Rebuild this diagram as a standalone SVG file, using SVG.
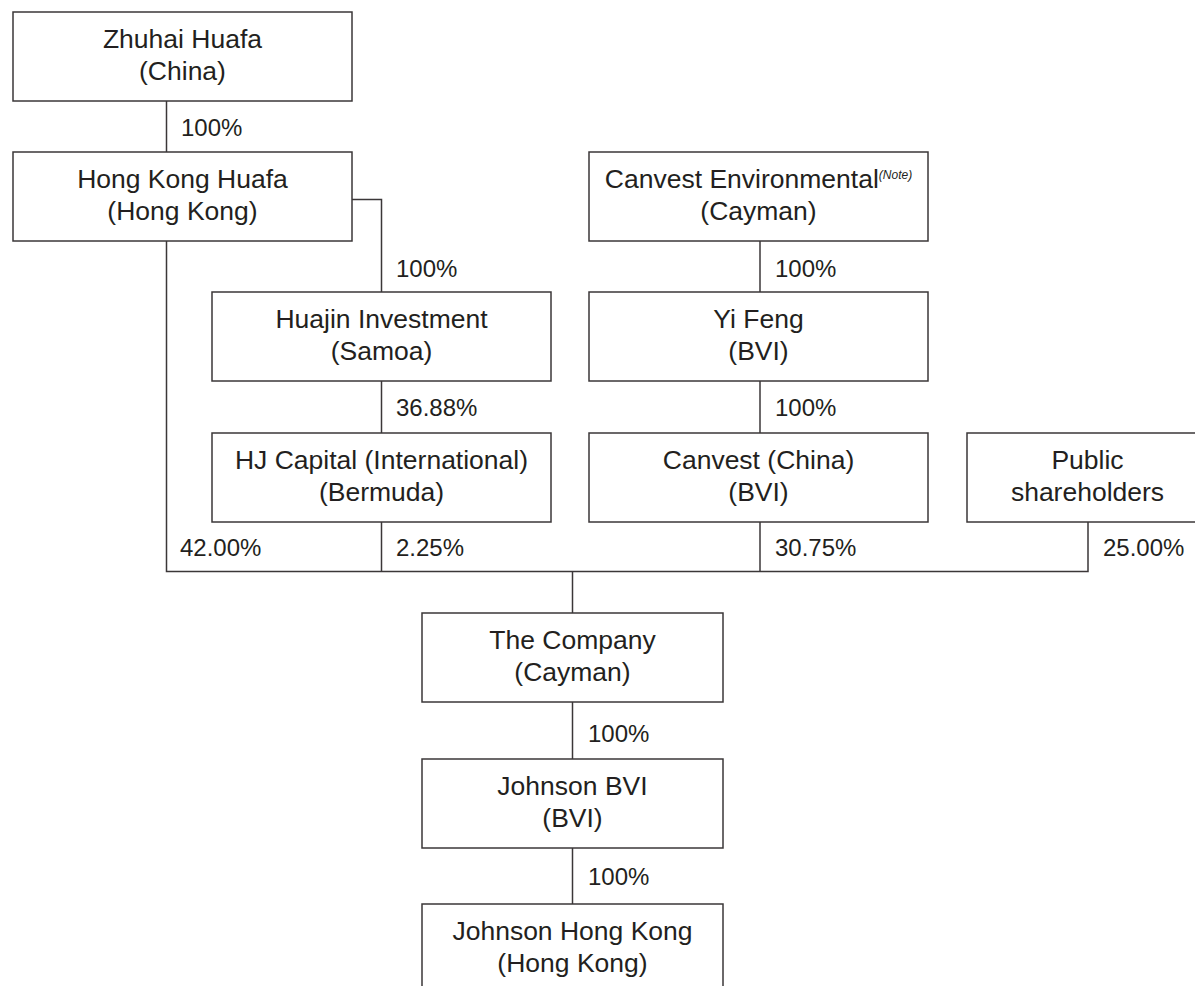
<svg xmlns="http://www.w3.org/2000/svg" width="1195" height="986" viewBox="0 0 1195 986">
<style>
.box{fill:#fff;stroke:#3b3738;stroke-width:1.5}
.t{font-family:"Liberation Sans",Arial,sans-serif;font-size:26.5px;fill:#231f20;text-anchor:middle}
.p{font-family:"Liberation Sans",Arial,sans-serif;font-size:24px;fill:#231f20}
.c{fill:none;stroke:#3b3738;stroke-width:1.5}
.n{font-style:italic;font-size:12px}
</style>
<rect width="1195" height="986" fill="#fff"/>
<g id="connectors">
<path class="c" d="M166.5 101V152"/>
<path class="c" d="M166.5 241V571.5H1088V522"/>
<path class="c" d="M352 199.5H381.5V292"/>
<path class="c" d="M381.5 381V433"/>
<path class="c" d="M381.5 522V571.5"/>
<path class="c" d="M760 241V292"/>
<path class="c" d="M760 381V433"/>
<path class="c" d="M760 522V571.5"/>
<path class="c" d="M572.5 571.5V613"/>
<path class="c" d="M572.5 702V759"/>
<path class="c" d="M572.5 848V904"/>
<text class="p" x="181" y="136">100%</text>
<text class="p" x="396" y="277">100%</text>
<text class="p" x="396" y="416">36.88%</text>
<text class="p" x="775" y="277">100%</text>
<text class="p" x="775" y="416">100%</text>
<text class="p" x="180" y="556">42.00%</text>
<text class="p" x="396" y="556">2.25%</text>
<text class="p" x="775" y="556">30.75%</text>
<text class="p" x="1103" y="556">25.00%</text>
<text class="p" x="588" y="742">100%</text>
<text class="p" x="588" y="885">100%</text>
</g>
<g id="zhuhai">
<rect class="box" x="13" y="12" width="339" height="89"/>
<text class="t" x="182.5" y="48">Zhuhai Huafa</text>
<text class="t" x="182.5" y="80">(China)</text>
</g>
<g id="hkhuafa">
<rect class="box" x="13" y="152" width="339" height="89"/>
<text class="t" x="182.5" y="188">Hong Kong Huafa</text>
<text class="t" x="182.5" y="220">(Hong Kong)</text>
</g>
<g id="canvestenv">
<rect class="box" x="589" y="152" width="339" height="89"/>
<text class="t" x="758.5" y="188">Canvest Environmental<tspan class="n" dy="-9">(Note)</tspan></text>
<text class="t" x="758.5" y="220">(Cayman)</text>
</g>
<g id="huajin">
<rect class="box" x="212" y="292" width="339" height="89"/>
<text class="t" x="381.5" y="328">Huajin Investment</text>
<text class="t" x="381.5" y="360">(Samoa)</text>
</g>
<g id="yifeng">
<rect class="box" x="589" y="292" width="339" height="89"/>
<text class="t" x="758.5" y="328">Yi Feng</text>
<text class="t" x="758.5" y="360">(BVI)</text>
</g>
<g id="hjcapital">
<rect class="box" x="212" y="433" width="339" height="89"/>
<text class="t" x="381.5" y="469">HJ Capital (International)</text>
<text class="t" x="381.5" y="501">(Bermuda)</text>
</g>
<g id="canvestchina">
<rect class="box" x="589" y="433" width="339" height="89"/>
<text class="t" x="758.5" y="469">Canvest (China)</text>
<text class="t" x="758.5" y="501">(BVI)</text>
</g>
<g id="public">
<rect class="box" x="967" y="433" width="242" height="89"/>
<text class="t" x="1087.5" y="469">Public</text>
<text class="t" x="1087.5" y="501">shareholders</text>
</g>
<g id="company">
<rect class="box" x="422" y="613" width="301" height="89"/>
<text class="t" x="572.5" y="649">The Company</text>
<text class="t" x="572.5" y="681">(Cayman)</text>
</g>
<g id="johnsonbvi">
<rect class="box" x="422" y="759" width="301" height="89"/>
<text class="t" x="572.5" y="795">Johnson BVI</text>
<text class="t" x="572.5" y="827">(BVI)</text>
</g>
<g id="johnsonhk">
<rect class="box" x="422" y="904" width="301" height="100"/>
<text class="t" x="572.5" y="940">Johnson Hong Kong</text>
<text class="t" x="572.5" y="972">(Hong Kong)</text>
</g>
</svg>
